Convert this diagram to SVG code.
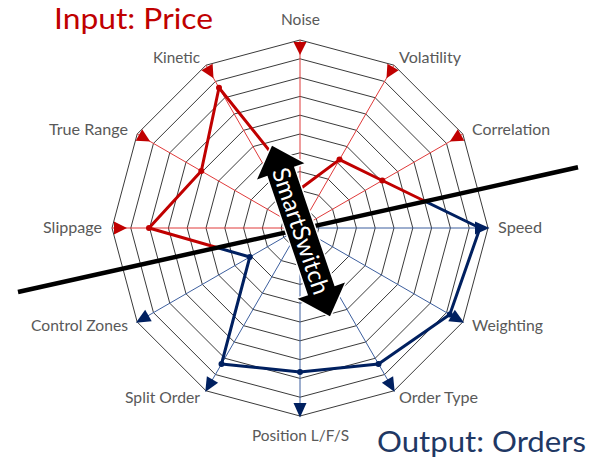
<svg xmlns="http://www.w3.org/2000/svg" width="603" height="460" viewBox="0 0 603 460">
<style>
.ring{fill:none;stroke:#3a3a3a;stroke-width:1}
.spokeR{stroke:#e03a3a;stroke-width:1;marker-end:url(#inArrow)}
.spokeB{stroke:#3d5f9e;stroke-width:1;marker-end:url(#outArrow)}
.lbl{font-family:Lato,"Open Sans",sans-serif;font-size:15px;fill:#595959}
.title{font-family:Lato,"Open Sans",sans-serif;font-size:29px}
.dataR{fill:none;stroke:#c00000;stroke-width:3;stroke-linejoin:round}
.dataB{fill:none;stroke:#002060;stroke-width:3;stroke-linejoin:round}
.dotR{fill:#c00000}
.dotB{fill:#002060}
</style>
<defs>
<marker id="inArrow" viewBox="-20 -10 24 20" refX="0" refY="0" markerWidth="24" markerHeight="20" markerUnits="userSpaceOnUse" orient="auto"><path d="M-2,-6.5 L-2,6.5 L-15,0 Z" fill="#c00000"/></marker>
<marker id="outArrow" viewBox="-20 -10 24 20" refX="0" refY="0" markerWidth="24" markerHeight="20" markerUnits="userSpaceOnUse" orient="auto"><path d="M-13,-6.5 L-13,6.5 L1.5,0 Z" fill="#002060"/></marker>
<clipPath id="above"><polygon points="0,0 603,0 603,161.9 0,296.04"/></clipPath>
<clipPath id="below"><polygon points="0,296.04 603,161.9 603,460 0,460"/></clipPath>
<polygon id="dataPoly" points="300,189 339.5,159.6 382.3,180.5 480,228 449.8,314.5 378.5,364 300,372 221.5,364 249.8,257 149,228 201.3,171 219,87.7"/>
</defs>
<rect width="603" height="460" fill="#fff"/>
<g id="grid">
<polygon class="ring" points="318.8,228 316.28,218.6 309.4,211.72 300,209.2 290.6,211.72 283.72,218.6 281.2,228 283.72,237.4 290.6,244.28 300,246.8 309.4,244.28 316.28,237.4"/>
<polygon class="ring" points="337.6,228 332.56,209.2 318.8,195.44 300,190.4 281.2,195.44 267.44,209.2 262.4,228 267.44,246.8 281.2,260.56 300,265.6 318.8,260.56 332.56,246.8"/>
<polygon class="ring" points="356.4,228 348.84,199.8 328.2,179.16 300,171.6 271.8,179.16 251.16,199.8 243.6,228 251.16,256.2 271.8,276.84 300,284.4 328.2,276.84 348.84,256.2"/>
<polygon class="ring" points="375.2,228 365.12,190.4 337.6,162.88 300,152.8 262.4,162.88 234.88,190.4 224.8,228 234.88,265.6 262.4,293.12 300,303.2 337.6,293.12 365.12,265.6"/>
<polygon class="ring" points="394,228 381.41,181 347,146.59 300,134 253,146.59 218.59,181 206,228 218.59,275 253,309.41 300,322 347,309.41 381.41,275"/>
<polygon class="ring" points="412.8,228 397.69,171.6 356.4,130.31 300,115.2 243.6,130.31 202.31,171.6 187.2,228 202.31,284.4 243.6,325.69 300,340.8 356.4,325.69 397.69,284.4"/>
<polygon class="ring" points="431.6,228 413.97,162.2 365.8,114.03 300,96.4 234.2,114.03 186.03,162.2 168.4,228 186.03,293.8 234.2,341.97 300,359.6 365.8,341.97 413.97,293.8"/>
<polygon class="ring" points="450.4,228 430.25,152.8 375.2,97.75 300,77.6 224.8,97.75 169.75,152.8 149.6,228 169.75,303.2 224.8,358.25 300,378.4 375.2,358.25 430.25,303.2"/>
<polygon class="ring" points="469.2,228 446.53,143.4 384.6,81.47 300,58.8 215.4,81.47 153.47,143.4 130.8,228 153.47,312.6 215.4,374.53 300,397.2 384.6,374.53 446.53,312.6"/>
<polygon class="ring" points="488,228 462.81,134 394,65.19 300,40 206,65.19 137.19,134 112,228 137.19,322 206,390.81 300,416 394,390.81 462.81,322"/>
</g>
<g id="connectors">
<line class="spokeR" x1="300" y1="228" x2="300" y2="40"/>
<line class="spokeR" x1="300" y1="228" x2="394" y2="65.19"/>
<line class="spokeR" x1="300" y1="228" x2="462.81" y2="134"/>
<line class="spokeR" x1="300" y1="228" x2="206" y2="65.19"/>
<line class="spokeR" x1="300" y1="228" x2="137.19" y2="134"/>
<line class="spokeR" x1="300" y1="228" x2="112" y2="228"/>
<line class="spokeB" x1="300" y1="228" x2="488" y2="228"/>
<line class="spokeB" x1="300" y1="228" x2="462.81" y2="322"/>
<line class="spokeB" x1="300" y1="228" x2="394" y2="390.81"/>
<line class="spokeB" x1="300" y1="228" x2="300" y2="416"/>
<line class="spokeB" x1="300" y1="228" x2="206" y2="390.81"/>
<line class="spokeB" x1="300" y1="228" x2="137.19" y2="322"/>
</g>
<g id="series">
<use href="#dataPoly" class="dataR" clip-path="url(#above)"/>
<use href="#dataPoly" class="dataB" clip-path="url(#below)"/>
<circle class="dotR" cx="300" cy="189" r="3"/>
<circle class="dotR" cx="339.5" cy="159.6" r="3"/>
<circle class="dotR" cx="382.3" cy="180.5" r="3"/>
<circle class="dotB" cx="480" cy="228" r="3"/>
<circle class="dotB" cx="449.8" cy="314.5" r="3"/>
<circle class="dotB" cx="378.5" cy="364" r="3"/>
<circle class="dotB" cx="300" cy="372" r="3"/>
<circle class="dotB" cx="221.5" cy="364" r="3"/>
<circle class="dotB" cx="249.8" cy="257" r="3"/>
<circle class="dotR" cx="149" cy="228" r="3"/>
<circle class="dotR" cx="201.3" cy="171" r="3"/>
<circle class="dotR" cx="219" cy="87.7" r="3"/>
</g>
<g id="divider">
<line x1="18" y1="292" x2="578" y2="167.3" stroke="#000" stroke-width="4.5"/>
</g>
<g id="smartswitch" transform="translate(301,231) rotate(71.2)">
<polygon points="-90,0 -63,-25 -63,-14 63,-14 63,-25 90,0 63,25 63,14 -63,14 -63,25" fill="#000" stroke="#fff" stroke-width="3" stroke-linejoin="round" paint-order="stroke"/>
<text x="0" y="8.5" text-anchor="middle" font-family="Lato,'Open Sans',sans-serif" font-size="24" fill="#fff" textLength="132" lengthAdjust="spacingAndGlyphs">SmartSwitch</text>
</g>
<g id="labels">
<text class="lbl" x="300.5" y="25" text-anchor="middle" textLength="39" lengthAdjust="spacingAndGlyphs">Noise</text>
<text class="lbl" x="153" y="63" textLength="47" lengthAdjust="spacingAndGlyphs">Kinetic</text>
<text class="lbl" x="399" y="63" textLength="62" lengthAdjust="spacingAndGlyphs">Volatility</text>
<text class="lbl" x="49" y="135" textLength="79" lengthAdjust="spacingAndGlyphs">True Range</text>
<text class="lbl" x="472" y="135" textLength="78" lengthAdjust="spacingAndGlyphs">Correlation</text>
<text class="lbl" x="43" y="233" textLength="59" lengthAdjust="spacingAndGlyphs">Slippage</text>
<text class="lbl" x="498" y="233" textLength="44" lengthAdjust="spacingAndGlyphs">Speed</text>
<text class="lbl" x="31" y="331" textLength="97" lengthAdjust="spacingAndGlyphs">Control Zones</text>
<text class="lbl" x="472" y="331" textLength="71" lengthAdjust="spacingAndGlyphs">Weighting</text>
<text class="lbl" x="125" y="403" textLength="75" lengthAdjust="spacingAndGlyphs">Split Order</text>
<text class="lbl" x="399" y="403" textLength="79" lengthAdjust="spacingAndGlyphs">Order Type</text>
<text class="lbl" x="252" y="441" textLength="97" lengthAdjust="spacingAndGlyphs">Position L/F/S</text>
<text class="title" x="54" y="28.5" fill="#c00000" textLength="159" lengthAdjust="spacingAndGlyphs">Input: Price</text>
<text class="title" x="377" y="451.5" fill="#1f3864" textLength="209" lengthAdjust="spacingAndGlyphs">Output: Orders</text>
</g>
</svg>
